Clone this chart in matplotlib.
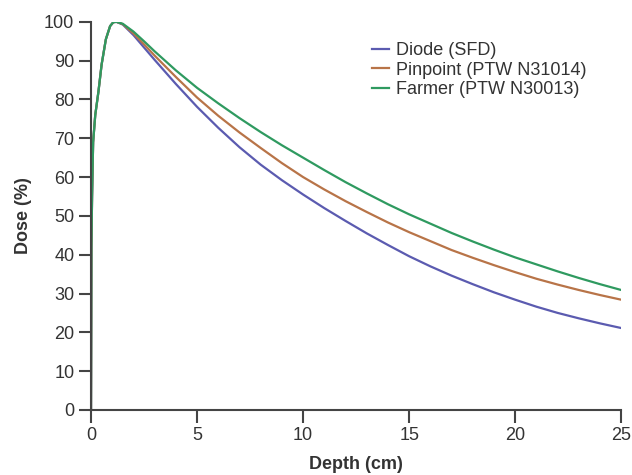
import matplotlib.pyplot as plt

plt.rcParams['font.family'] = ['Liberation Sans', 'DejaVu Sans']

# depth in cm
depth = [0, 0.02, 0.05, 0.1, 0.2, 0.35, 0.5, 0.7, 0.9, 1.05, 1.2, 1.5, 2, 2.5, 3, 4, 5,
         6, 7, 8, 9, 10, 11, 12, 13, 14, 15, 16, 17, 18, 19, 20, 21, 22, 23, 24, 25]

# shared build-up region
buildup = [0, 42, 55, 69, 76, 82, 89, 95.5, 98.9, 99.9, 100]

diode = buildup + [99.3, 96.6, 93.4, 90.2, 84, 78.1, 72.7, 67.7, 63.2, 59.2, 55.5, 52,
                   48.7, 45.5, 42.5, 39.6, 37, 34.6, 32.4, 30.3, 28.4, 26.6, 25, 23.6,
                   22.3, 21.1]
pinpoint = buildup + [99.4, 97, 94.2, 91.3, 85.8, 80.5, 75.8, 71.5, 67.5, 63.6, 60,
                      56.8, 53.8, 51, 48.3, 45.8, 43.5, 41.2, 39.2, 37.3, 35.5, 33.8,
                      32.3, 30.9, 29.6, 28.4]
farmer = buildup + [99.5, 97.5, 95, 92.4, 87.5, 83, 79, 75.2, 71.6, 68.2, 65, 61.8,
                    58.7, 55.8, 53, 50.4, 48, 45.6, 43.4, 41.3, 39.3, 37.5, 35.7, 34,
                    32.4, 30.9]

labels = ['Diode (SFD)', 'Pinpoint (PTW N31014)', 'Farmer (PTW N30013)']
colors = ['#5b5bb0', '#b87448', '#2f9a60']

fig = plt.figure(figsize=(6.32, 4.75), dpi=100)
ax = fig.add_axes([0.144, 0.137, 0.839, 0.817])

for y, lab, c in zip([diode, pinpoint, farmer], labels, colors):
    ax.plot(depth, y, color=c, linewidth=1.6, label=lab)

ax.set_xlim(0, 25)
ax.set_ylim(0, 100)
ax.set_xticks(range(0, 26, 5))
ax.set_yticks(range(0, 101, 10))

for s in ['top', 'right']:
    ax.spines[s].set_visible(False)
for s in ['left', 'bottom']:
    ax.spines[s].set_color('#444444')
    ax.spines[s].set_linewidth(1.5)
ax.tick_params(direction='out', length=9, width=1.5, color='#444444',
               labelsize=13, labelcolor='#333333', pad=3)

ax.set_xlabel('Depth (cm)', fontsize=13, fontweight='bold', color='#333333', labelpad=9)
ax.set_ylabel('Dose (%)', fontsize=13, fontweight='bold', color='#333333', labelpad=9)

ax.legend(loc='upper left', bbox_to_anchor=(0.50, 0.99), frameon=False, fontsize=13,
          handlelength=0.9, handletextpad=0.4, labelspacing=0.15, labelcolor='#333333')

fig.savefig('out.png', dpi=100)
